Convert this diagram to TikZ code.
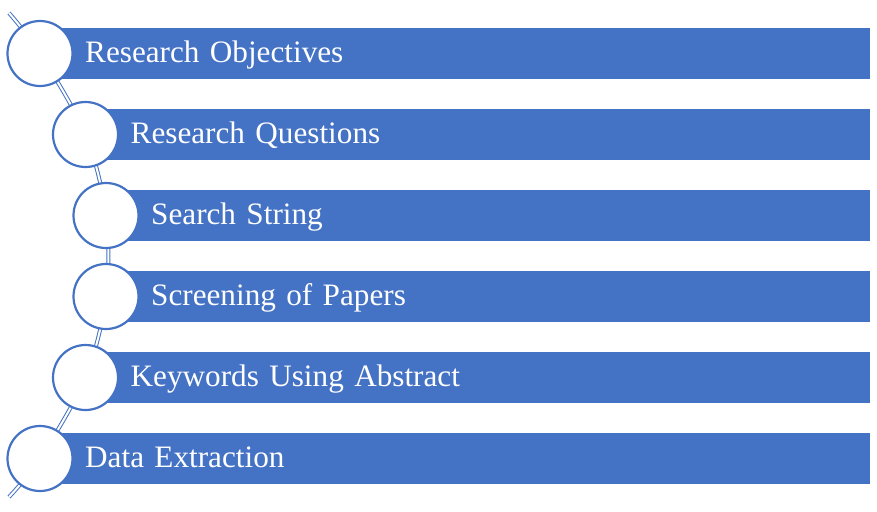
\documentclass[tikz,border=0pt]{standalone}
\usepackage{fontspec}
\setmainfont{Liberation Serif}
\definecolor{accent}{HTML}{4472C4}
\begin{document}
\begin{tikzpicture}[x=1pt,y=-1pt,
  stepbar/.style={fill=accent, draw=none, anchor=west, minimum height=51pt,
    inner xsep=45pt, inner ysep=0pt, align=left, text=white,
    text height=23.5pt, text depth=5.5pt,
    font=\fontsize{31.2}{36}\selectfont},
  dot/.style={circle, draw=accent, line width=2.2pt, fill=white,
    minimum size=65pt, inner sep=0pt},
  spine/.style={draw=accent, line width=1pt, double=white, double distance=2pt}]
\useasboundingbox (0,0) rectangle (877,511);
% circle positions along the spine
\coordinate (top) at (9,13);
\coordinate (bot) at (9,497);
\coordinate (p1) at (40,53.5);
\coordinate (p2) at (85.5,134.5);
\coordinate (p3) at (106,215.5);
\coordinate (p4) at (106,296.5);
\coordinate (p5) at (85.5,377.5);
\coordinate (p6) at (40,458.5);
% curved spine through the circles
\draw[spine] plot[smooth, tension=0.55] coordinates {(top) (p1) (p2) (p3) (p4) (p5) (p6) (bot)};
% bars with their labels
\node[stepbar, text width=870-40-90] (b1) at (p1) {Research Objectives};
\node[stepbar, text width=870-85.5-90] (b2) at (p2) {Research Questions};
\node[stepbar, text width=870-106-90] (b3) at (p3) {Search String};
\node[stepbar, text width=870-106-90] (b4) at (p4) {Screening of Papers};
\node[stepbar, text width=870-85.5-90] (b5) at (p5) {Keywords Using Abstract};
\node[stepbar, text width=870-40-90] (b6) at (p6) {Data Extraction};
% circles
\foreach \i in {1,...,6} \node[dot] (c\i) at (p\i) {};
\end{tikzpicture}
\end{document}
